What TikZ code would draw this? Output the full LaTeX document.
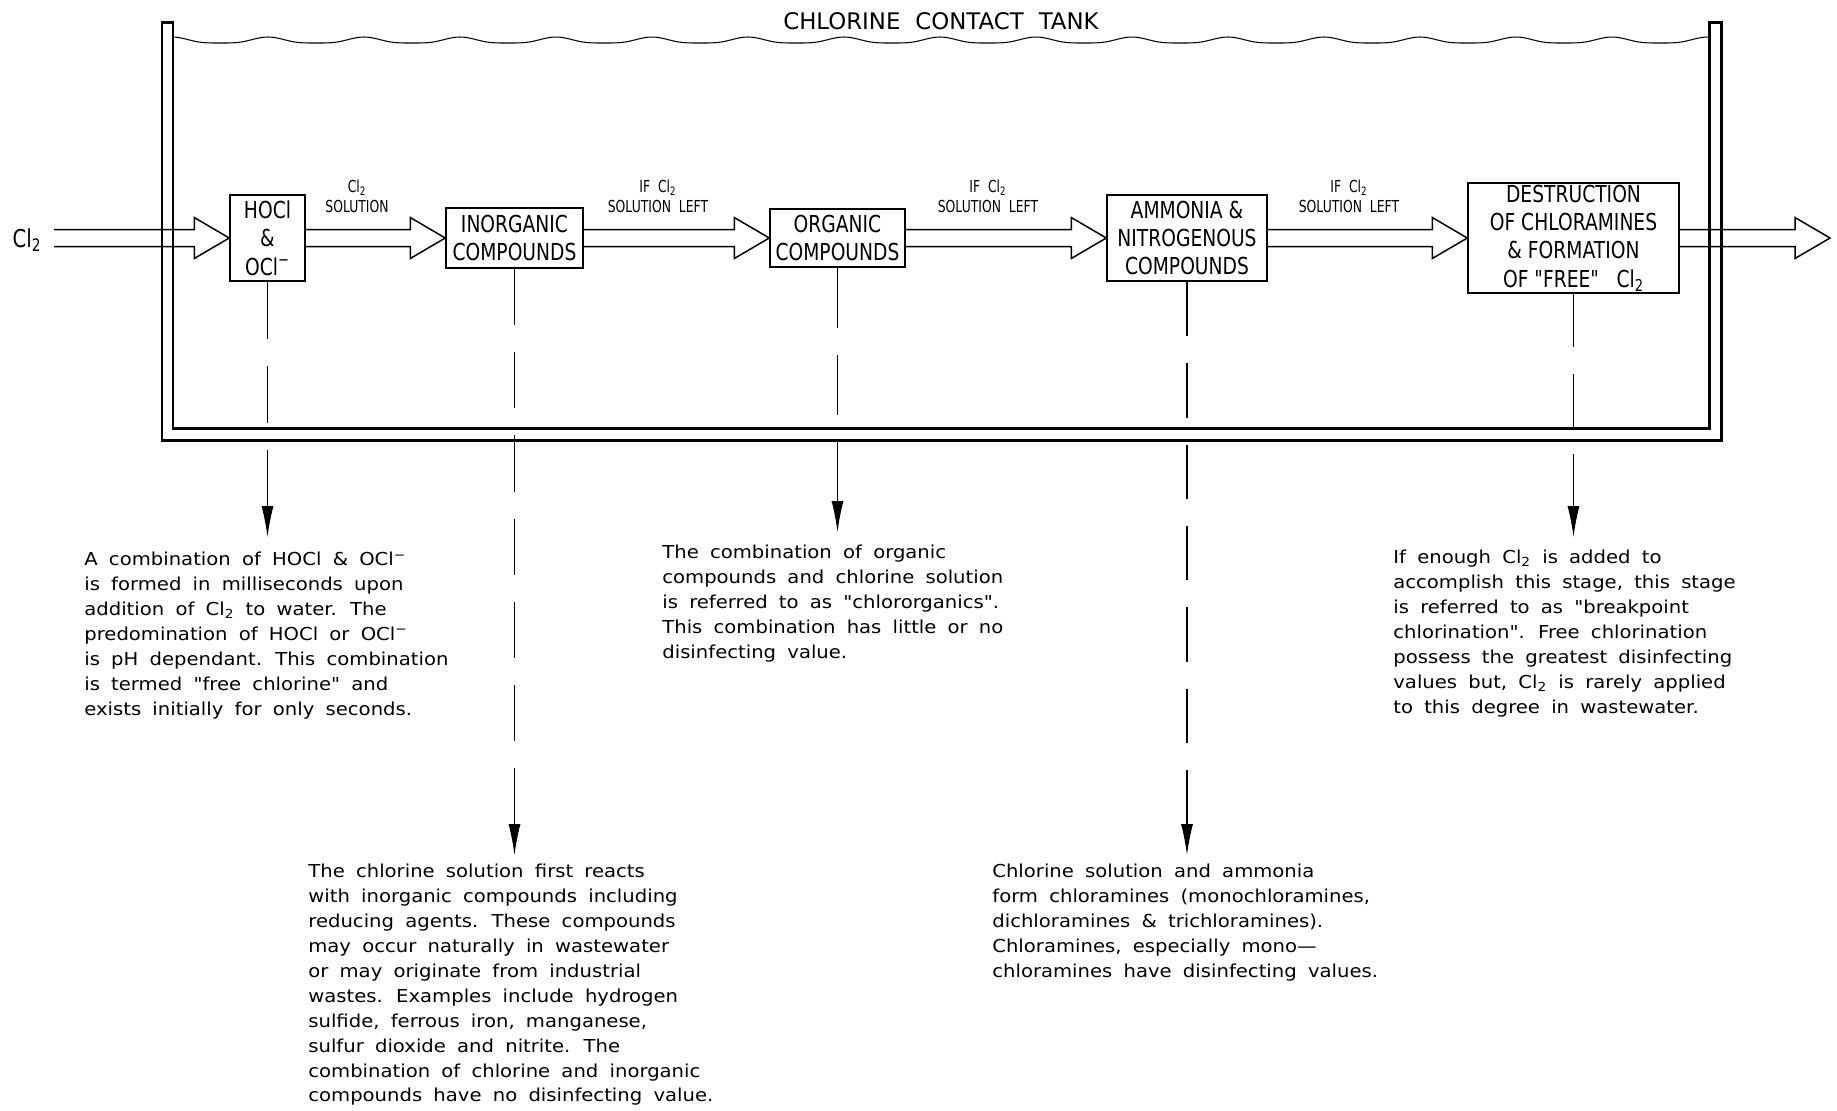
\documentclass[tikz,border=0pt]{standalone}
\usepackage{fontspec}
\setmainfont{DejaVu Sans}
\newfontfamily\bodyfont[FakeStretch=1.1,WordSpace=1.8]{DejaVu Sans}
\newfontfamily\boxfont[FakeStretch=0.8]{DejaVu Sans}
\newfontfamily\lblfont[FakeStretch=0.75,WordSpace=2]{DejaVu Sans}
\usetikzlibrary{arrows.meta,calc}
\newcommand\flowarrow[2]{\draw[flow] ($(#1)+(0,-8.5)$) -- ($(#2)+(-35,-8.5)$) -- ($(#2)+(-35,-20.5)$) -- (#2) -- ($(#2)+(-35,20.5)$) -- ($(#2)+(-35,8.5)$) -- ($(#1)+(0,8.5)$);}
\tikzset{
 box/.style={draw, line width=0.85pt, inner sep=0pt, align=center, font=\boxfont\fontsize{13.3pt}{16.1pt}\selectfont},
 lbl/.style={inner sep=0pt, align=center, anchor=south, font=\lblfont\fontsize{9.4pt}{11.4pt}\selectfont},
 body/.style={inner sep=0pt, align=left, anchor=north west, font=\bodyfont\fontsize{10.15pt}{14.2pt}\selectfont},
 flow/.style={line width=0.85pt, line join=miter},
 wall/.style={line width=1.7pt, line join=miter},
 lead/.style={line width=0.7pt, -{Latex[length=0.62cm, width=0.24cm]}},
}
\begin{document}
\begin{tikzpicture}[x=0.02cm, y=-0.02cm]
\useasboundingbox (0,0) rectangle (1837,1110);
% tank
\draw[wall] (162,22) -- (162,440) -- (1721,440) -- (1721,22) -- (1709,22) -- (1709,428) -- (173,428) -- (173,22) -- cycle;
\draw[line width=0.6pt] plot[domain=173:1709, samples=500, smooth] (\x, {43 - 6*(0.5+0.5*cos(3.75*(\x-268)))^2});
\node[font=\fontsize{13pt}{15pt}\selectfont, inner sep=0pt] (title) at (941,21) {CHLORINE\hspace{0.3cm}CONTACT\hspace{0.3cm}TANK};
% boxes
\node[box, minimum width=1.5cm, minimum height=1.72cm] (hocl) at (267.5,238) {HOCl\\\&\\OCl\textsuperscript{−}};
\node[box, minimum width=2.74cm, minimum height=1.2cm] (inorg) at (514.5,238) {INORGANIC\\COMPOUNDS};
\node[box, minimum width=2.7cm, minimum height=1.16cm] (org) at (837.5,238) {ORGANIC\\COMPOUNDS};
\node[box, minimum width=3.2cm, minimum height=1.72cm] (amm) at (1187,238) {AMMONIA \&\\NITROGENOUS\\COMPOUNDS};
\node[box, minimum width=4.22cm, minimum height=2.2cm] (destr) at (1573.5,238) {DESTRUCTION\\OF CHLORAMINES\\\& FORMATION\\OF "FREE"\hspace{0.35cm}Cl\textsubscript{2}};
% input / output
\node[font=\boxfont\fontsize{14pt}{16pt}\selectfont, inner sep=0pt] (cl) at (27,240) {Cl\textsubscript{2}};
\coordinate (in) at (54,238);
\coordinate (out) at (1830,238);
\flowarrow{in}{hocl.west}
\flowarrow{hocl.east}{inorg.west}
\flowarrow{inorg.east}{org.west}
\flowarrow{org.east}{amm.west}
\flowarrow{amm.east}{destr.west}
\flowarrow{destr.east}{out}
% arrow labels
\node[lbl] (l1) at (357,213) {Cl\textsubscript{2}\\SOLUTION};
\node[lbl] (l2) at (658,213) {IF Cl\textsubscript{2}\\SOLUTION LEFT};
\node[lbl] (l3) at (988,213) {IF Cl\textsubscript{2}\\SOLUTION LEFT};
\node[lbl] (l4) at (1349,213) {IF Cl\textsubscript{2}\\SOLUTION LEFT};
% leaders
\coordinate (t1) at (267.5,537);
\coordinate (t2) at (514.5,855);
\coordinate (t3) at (837.5,532);
\coordinate (t4) at (1187,855);
\coordinate (t5) at (1573.5,537);
\draw[lead, dash pattern=on 1.14cm off 0.54cm] (hocl.south) -- (t1);
\draw[lead, dash pattern=on 1.126cm off 0.54cm] (inorg.south) -- (t2);
\draw[lead, dash pattern=on 1.2cm off 0.54cm] (org.south) -- (t3);
\draw[lead, dash pattern=on 1.088cm off 0.54cm] (amm.south) -- (t4);
\draw[lead, dash pattern=on 1.06cm off 0.54cm] (destr.south) -- (t5);
% texts
\node[body] (x1) at (84,551.5) {A combination of HOCl \& OCl\textsuperscript{−}\\is formed in milliseconds upon\\addition of Cl\textsubscript{2} to water. The\\predomination of HOCl or OCl\textsuperscript{−}\\is pH dependant. This combination\\is termed "free chlorine" and\\exists initially for only seconds.};
\node[body] (x2) at (308,863.5) {The chlorine solution first reacts\\with inorganic compounds including\\reducing agents. These compounds\\may occur naturally in wastewater\\or may originate from industrial\\wastes. Examples include hydrogen\\sulfide, ferrous iron, manganese,\\sulfur dioxide and nitrite. The\\combination of chlorine and inorganic\\compounds have no disinfecting value.};
\node[body] (x3) at (662,544.5) {The combination of organic\\compounds and chlorine solution\\is referred to as "chlororganics".\\This combination has little or no\\disinfecting value.};
\node[body] (x4) at (992,863.5) {Chlorine solution and ammonia\\form chloramines (monochloramines,\\dichloramines \& trichloramines).\\Chloramines, especially mono—\\chloramines have disinfecting values.};
\node[body] (x5) at (1393,549.5) {If enough Cl\textsubscript{2} is added to\\accomplish this stage, this stage\\is referred to as "breakpoint\\chlorination". Free chlorination\\possess the greatest disinfecting\\values but, Cl\textsubscript{2} is rarely applied\\to this degree in wastewater.};
\end{tikzpicture}
\end{document}
